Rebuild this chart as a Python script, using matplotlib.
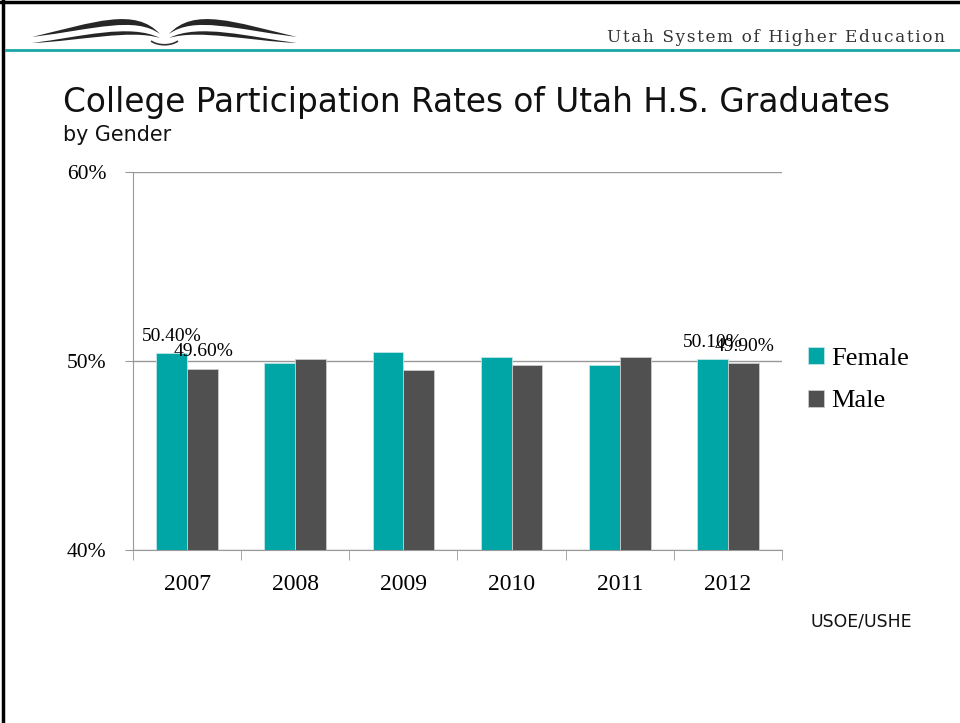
import numpy as np
import matplotlib
matplotlib.use('Agg')
from matplotlib import pyplot as plt
from matplotlib.path import Path
from matplotlib.patches import PathPatch

# Data
years = ['2007', '2008', '2009', '2010', '2011', '2012']
female = [50.4, 49.9, 50.5, 50.2, 49.8, 50.1]
male = [49.6, 50.1, 49.5, 49.8, 50.2, 49.9]
labeled_years = ['2007', '2012']

teal = '#00A6A6'
dark = '#505050'
serif = 'Liberation Serif'
sans = 'DejaVu Sans'

fig = plt.figure(figsize=(9.6, 7.23), dpi=100)

# Slide decoration in pixel coordinates
bg = fig.add_axes([0, 0, 1, 1])
bg.set_xlim(0, 960)
bg.set_ylim(723, 0)
bg.axis('off')
bg.plot([3, 3], [0, 723], color='black', lw=2.5)
bg.plot([0, 960], [2, 2], color='black', lw=2.5)
bg.plot([6, 960], [50, 50], color='#1AA6A6', lw=2)

C4 = Path.CURVE4


def stroke(pts, mirror):
    if mirror:
        pts = [(329 - px, py) for px, py in pts]
    codes = [Path.MOVETO, C4, C4, C4, C4, C4, C4]
    bg.add_patch(PathPatch(Path(pts, codes), fc='#262626', ec='none'))


for m in (False, True):
    # upper stroke of the open-book wing
    stroke([(32, 37), (95, 22), (135, 7), (160, 34),
            (135, 16), (95, 29), (32, 37)], m)
    # lower stroke
    stroke([(32, 43), (80, 37), (130, 23), (160, 38),
            (130, 29), (80, 41), (32, 43)], m)
bg.add_patch(PathPatch(Path([(151, 41), (158, 46), (171, 46), (178, 41)],
                            [Path.MOVETO, C4, C4, C4]),
                       fc='none', ec='#333333', lw=1.2))

fig.text(945 / 960, 1 - 38 / 723,
         '\u200a'.join('Utah System of Higher Education'),
         ha='right', va='center', fontsize=12.2, family=['DejaVu Serif'], color='#333333')

fig.text(63 / 960, 1 - 112 / 723, 'College Participation Rates of Utah H.S. Graduates',
         fontsize=23.6, family=sans, ha='left', va='baseline', color='#111111')
fig.text(63 / 960, 1 - 141 / 723, 'by Gender', fontsize=14.9, family=sans,
         ha='left', va='baseline', color='#111111')
fig.text(810 / 960, 1 - 622 / 723, 'USOE/USHE', fontsize=12.4, family=sans,
         ha='left', va='center', color='#111111')

ax = fig.add_axes([133 / 960, 1 - 550 / 723, 649 / 960, 378 / 723])
x = np.arange(len(years))
w = 0.285
ax.bar(x - w / 2, female, w, color=teal, edgecolor='#bfe6e6', lw=0.6, label='Female', zorder=3)
ax.bar(x + w / 2, male, w, color=dark, edgecolor='#cccccc', lw=0.6, label='Male', zorder=3)

ax.set_ylim(40, 60)
ax.set_xlim(-0.5, len(years) - 0.5)
ax.set_yticks([40, 50, 60])
ax.set_yticklabels(['40%', '50%', '60%'], family=serif, fontsize=15.5)
ax.set_xticks(x)
ax.set_xticklabels(years, family=serif, fontsize=17)
ax.set_xticks(np.arange(-0.5, len(years)), minor=True)
ax.tick_params(axis='x', which='major', length=0, pad=17)
ax.tick_params(axis='x', which='minor', length=7, color='#999999', direction='out')
ax.tick_params(axis='y', length=6, color='#999999', direction='out', pad=13)
ax.grid(axis='y', color='#999999', lw=1, zorder=1)
for s in ['top', 'right']:
    ax.spines[s].set_visible(False)
ax.spines['left'].set_color('#999999')
ax.spines['bottom'].set_color('#999999')

for i, yr in enumerate(years):
    if yr in labeled_years:
        ax.annotate(f'{female[i]:.2f}%', (x[i] - w / 2, female[i]), xytext=(0, 6),
                    textcoords='offset points', ha='center', va='bottom',
                    family=serif, fontsize=14)
        ax.annotate(f'{male[i]:.2f}%', (x[i] + w / 2, male[i]), xytext=(1, 6),
                    textcoords='offset points', ha='center', va='bottom',
                    family=serif, fontsize=14)

ax.legend(loc='center left', bbox_to_anchor=(1.04, 0.45), frameon=False,
          prop={'family': serif, 'size': 19}, handlelength=0.6, handleheight=0.6,
          handletextpad=0.3, labelspacing=0.75, borderaxespad=0, borderpad=0)

fig.savefig('out.png', dpi=100)
